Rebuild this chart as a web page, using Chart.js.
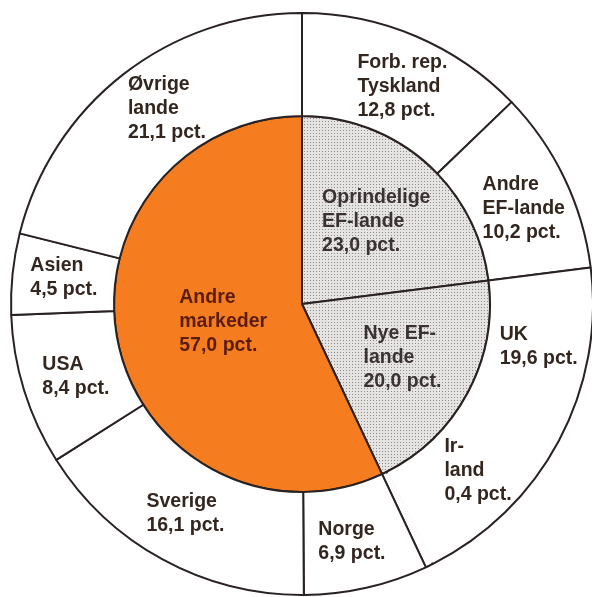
<!DOCTYPE html>
<html>
<head>
<meta charset="utf-8">
<script src="https://cdn.jsdelivr.net/npm/chart.js@4"></script>
<style>
  html, body { margin: 0; padding: 0; background: #ffffff; }
  #wrap { width: 592px; height: 597px; }
</style>
</head>
<body>
<div id="wrap"><canvas id="exportChart" width="592" height="597"></canvas></div>
<script>
// outer ring: single markets (clockwise from 12 o'clock)
const outerCategories = ['Forb. rep.\nTyskland', 'Andre\nEF-lande', 'UK', 'Ir-\nland', 'Norge', 'Sverige', 'USA', 'Asien', 'Øvrige\nlande'];
const outerValues = [12.8, 10.2, 19.6, 0.4, 6.9, 16.1, 8.4, 4.5, 21.1];

// inner pie: market groups
const innerCategories = ['Oprindelige\nEF-lande', 'Nye EF-\nlande', 'Andre\nmarkeder'];
const innerValues = [23.0, 20.0, 57.0];

const fmt = v => v.toFixed(1).replace('.', ',') + ' pct.';

// stippled grey like the printed screen
function stipple() {
    const c = document.createElement('canvas');
    c.width = 3; c.height = 3;
    const g = c.getContext('2d');
    g.fillStyle = '#e6e4e2';
    g.fillRect(0, 0, 3, 3);
    g.fillStyle = '#8e8a88';
    g.fillRect(1, 1, 1, 1);
    return g.createPattern(c, 'repeat');
}

// label nudges: turn = degrees off the slice middle, depth = 0..1 across the ring
const outerNudge = [
    { turn: 1.8, depth: 0.495 }, { turn: 2.2, depth: 0.52 }, { turn: -17.8, depth: 0.51 },
    { turn: -20.6, depth: 0.53 }, { turn: 0.9, depth: 0.53 }, { turn: 0.5, depth: 0.50 },
    { turn: -0.5, depth: 0.48 }, { turn: 0.3, depth: 0.50 }, { turn: 3.3, depth: 0.48 }
];
const innerNudge = [{ turn: 0.6, depth: 0.59 }, { turn: -0.7, depth: 0.606 }, { turn: -0.2, depth: 0.43 }];

const sliceLabels = {
    id: 'sliceLabels',
    afterDatasetsDraw(chart) {
        const ctx = chart.ctx;
        ctx.save();

        // the print leaves out the UK / Irland divider, so paint it over
        const uk = chart.getDatasetMeta(0).data[2].getProps(['x', 'y', 'endAngle', 'innerRadius', 'outerRadius'], true);
        ctx.strokeStyle = '#ffffff';
        ctx.lineWidth = 3.2;
        ctx.beginPath();
        ctx.moveTo(uk.x + (uk.innerRadius + 1.5) * Math.cos(uk.endAngle), uk.y + (uk.innerRadius + 1.5) * Math.sin(uk.endAngle));
        ctx.lineTo(uk.x + (uk.outerRadius - 1.5) * Math.cos(uk.endAngle), uk.y + (uk.outerRadius - 1.5) * Math.sin(uk.endAngle));
        ctx.stroke();

        ctx.font = 'bold 19.5px "Liberation Sans", Arial, sans-serif';
        ctx.textBaseline = 'middle';
        ctx.textAlign = 'left';
        const lh = 24;
        chart.data.datasets.forEach((ds, di) => {
            chart.getDatasetMeta(di).data.forEach((arc, i) => {
                const p = arc.getProps(['x', 'y', 'startAngle', 'endAngle', 'innerRadius', 'outerRadius'], true);
                const n = ds.nudge[i];
                const a = (p.startAngle + p.endAngle) / 2 + n.turn * Math.PI / 180;
                const r = p.innerRadius + (p.outerRadius - p.innerRadius) * n.depth;
                const cx = p.x + r * Math.cos(a);
                const cy = p.y + r * Math.sin(a);
                const lines = ds.names[i].split('\n').concat(fmt(ds.data[i]));
                const w = Math.max(...lines.map(t => ctx.measureText(t).width));
                const top = cy - (lines.length - 1) * lh / 2;
                ctx.fillStyle = ds.textColors[i];
                lines.forEach((t, k) => ctx.fillText(t, cx - w / 2, top + k * lh));
            });
        });
        ctx.restore();
    }
};

const grey = stipple();

new Chart(document.getElementById('exportChart').getContext('2d'), {
    type: 'doughnut',
    data: {
        labels: outerCategories,
        datasets: [{
            data: outerValues,
            names: outerCategories,
            nudge: outerNudge,
            textColors: outerValues.map(() => '#33261f'),
            backgroundColor: '#ffffff',
            borderColor: '#2a2222',
            borderWidth: 2,
            weight: 103
        }, {
            data: innerValues,
            names: innerCategories,
            nudge: innerNudge,
            textColors: ['#3a3234', '#3a3234', '#5a1c0c'],
            backgroundColor: [grey, grey, '#f67d1f'],
            borderColor: '#2a2222',
            borderWidth: 2,
            weight: 188
        }]
    },
    options: {
        responsive: false,
        animation: false,
        cutout: 0,
        radius: 291,
        layout: { padding: { left: 12, right: 0, top: 14, bottom: 3 } },
        plugins: { legend: { display: false }, tooltip: { enabled: false } }
    },
    plugins: [sliceLabels]
});
</script>
</body>
</html>
